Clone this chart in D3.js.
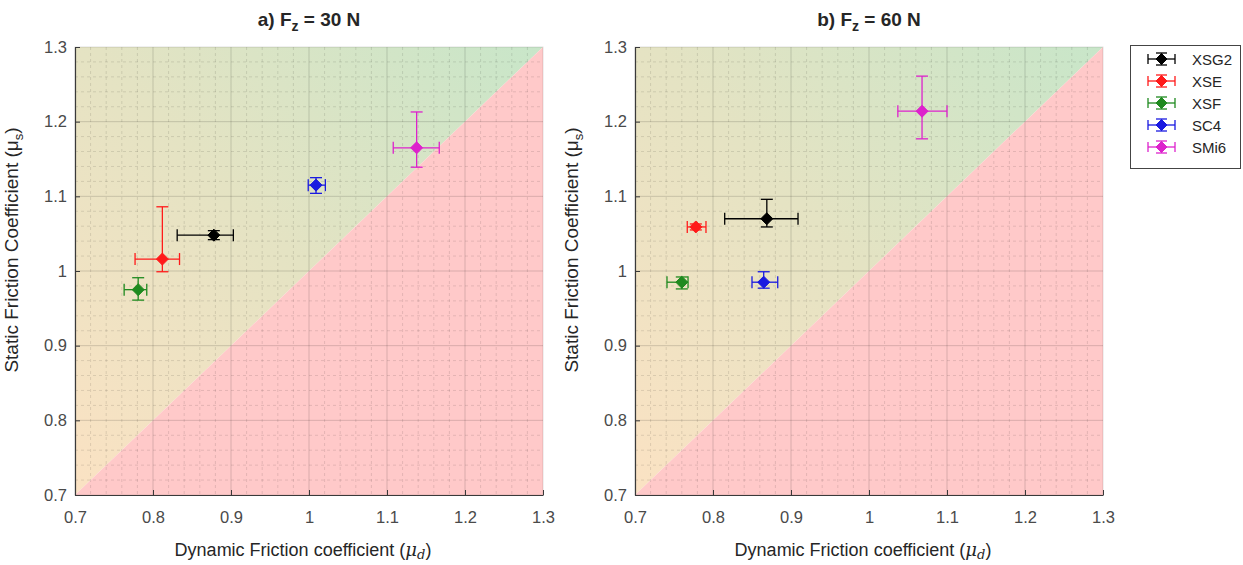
<!DOCTYPE html>
<html>
<head>
<meta charset="utf-8">
<script src="https://cdn.jsdelivr.net/npm/d3@7"></script>
<style>
    body { margin: 0; background: white; }
    svg { display: block; font-family: "Liberation Sans", Arial, sans-serif; }
</style>
</head>
<body>
<svg id="view" width="1243" height="565"></svg>
<script>
// DATA
var SERIES = ["XSG2", "XSE", "XSF", "SC4", "SMi6"];
var COLORS = ["#000000", "#ff1a1a", "#1f8a1f", "#1a1ae0", "#dd22cc"];

var TICKS = [0.7, 0.8, 0.9, 1, 1.1, 1.2, 1.3];

// a) Fz = 30 N
var muD30   = [0.878, 0.812, 0.781, 1.009, 1.138];
var muD30Lo = [0.831, 0.777, 0.763, 0.999, 1.108];
var muD30Hi = [0.903, 0.834, 0.792, 1.021, 1.167];
var muS30   = [1.048, 1.016, 0.975, 1.115, 1.165];
var muS30Lo = [1.042, 0.999, 0.961, 1.104, 1.139];
var muS30Hi = [1.054, 1.086, 0.991, 1.125, 1.213];

// b) Fz = 60 N
var muD60   = [0.869, 0.778, 0.760, 0.865, 1.068];
var muD60Lo = [0.815, 0.767, 0.741, 0.850, 1.037];
var muD60Hi = [0.909, 0.791, 0.768, 0.883, 1.100];
var muS60   = [1.070, 1.059, 0.985, 0.985, 1.214];
var muS60Lo = [1.059, 1.055, 0.976, 0.977, 1.177];
var muS60Hi = [1.096, 1.063, 0.992, 0.999, 1.261];

// CONSTANTS
var TOP = 47;
var BOTTOM = 495;
var CAP = 6;
var DIAMOND = 6;
var TEXT = "#4a4a4a";
var LABEL = "#262626";


function diamond(cx, cy, r) {
    return "M" + cx + "," + (cy - r) +
        "L" + (cx + r) + "," + cy +
        "L" + cx + "," + (cy + r) +
        "L" + (cx - r) + "," + cy + "Z";
}

function drawErrorBar(g, cx, cy, x0, x1, y0, y1, color) {
    var bar = g.append("g")
        .attr("stroke", color)
        .attr("stroke-width", 1.3)
        .attr("fill", "none")
        ;
    bar.append("line").attr("x1", x0).attr("x2", x1).attr("y1", cy).attr("y2", cy);
    bar.append("line").attr("x1", x0).attr("x2", x0).attr("y1", cy - CAP).attr("y2", cy + CAP);
    bar.append("line").attr("x1", x1).attr("x2", x1).attr("y1", cy - CAP).attr("y2", cy + CAP);
    bar.append("line").attr("x1", cx).attr("x2", cx).attr("y1", y0).attr("y2", y1);
    bar.append("line").attr("x1", cx - CAP).attr("x2", cx + CAP).attr("y1", y0).attr("y2", y0);
    bar.append("line").attr("x1", cx - CAP).attr("x2", cx + CAP).attr("y1", y1).attr("y2", y1);
    g.append("path")
        .attr("d", diamond(cx, cy, DIAMOND))
        .attr("fill", color)
        .attr("stroke", color)
        .attr("stroke-width", 1)
        ;
}

function drawPanel(svg, id, left, right, title, d, dLo, dHi, s, sLo, sHi) {
    var x = d3.scaleLinear().domain([0.7, 1.3]).range([left, right]);
    var y = d3.scaleLinear().domain([0.7, 1.3]).range([BOTTOM, TOP]);
    var g = svg.append("g");

    // background
    var grad = svg.append("defs").append("linearGradient")
        .attr("id", id)
        .attr("gradientUnits", "userSpaceOnUse")
        .attr("x1", x(0.7)).attr("y1", y(0.7))
        .attr("x2", x(1.3)).attr("y2", y(1.3))
        ;
    grad.append("stop").attr("offset", 0).attr("stop-color", "#fbe2c3");
    grad.append("stop").attr("offset", 0.5).attr("stop-color", "#e4e3c3");
    grad.append("stop").attr("offset", 1).attr("stop-color", "#c8e6c9");

    var line = d3.line().x(function(p) { return x(p[0]); }).y(function(p) { return y(p[1]); });
    g.append("path")
        .attr("d", line([[0.7, 0.7], [0.7, 1.3], [1.3, 1.3]]) + "Z")
        .attr("fill", "url(#" + id + ")")
        ;
    g.append("path")
        .attr("d", line([[0.7, 0.7], [1.3, 0.7], [1.3, 1.3]]) + "Z")
        .attr("fill", "#ffc9c9")
        ;

    // grid
    var minor = d3.range(36, 65).map(function(v) { return v / 50; })
        .filter(function(v) { return Math.round(v * 50) % 5 !== 0; });
    var grid = g.append("g").attr("fill", "none");
    minor.forEach(function(v) {
        grid.append("line")
            .attr("x1", x(v)).attr("x2", x(v)).attr("y1", TOP).attr("y2", BOTTOM)
            .attr("stroke", "rgba(0,0,0,0.14)").attr("stroke-width", 0.8)
            .attr("stroke-dasharray", "3,3")
            ;
        grid.append("line")
            .attr("x1", left).attr("x2", right).attr("y1", y(v)).attr("y2", y(v))
            .attr("stroke", "rgba(0,0,0,0.14)").attr("stroke-width", 0.8)
            .attr("stroke-dasharray", "3,3")
            ;
    });
    TICKS.slice(1, -1).forEach(function(v) {
        grid.append("line")
            .attr("x1", x(v)).attr("x2", x(v)).attr("y1", TOP).attr("y2", BOTTOM)
            .attr("stroke", "rgba(0,0,0,0.15)").attr("stroke-width", 1)
            ;
        grid.append("line")
            .attr("x1", left).attr("x2", right).attr("y1", y(v)).attr("y2", y(v))
            .attr("stroke", "rgba(0,0,0,0.15)").attr("stroke-width", 1)
            ;
    });
    g.append("rect")
        .attr("x", left).attr("y", TOP)
        .attr("width", right - left).attr("height", BOTTOM - TOP)
        .attr("fill", "none")
        .attr("stroke", "rgba(0,0,0,0.12)")
        ;

    // axes
    var fmt = d3.format("~g");
    var xAxis = g.append("g")
        .attr("transform", "translate(0," + BOTTOM + ")")
        .call(d3.axisBottom(x).tickValues(TICKS).tickFormat(fmt).tickSize(-5).tickPadding(16).tickSizeOuter(0))
        ;
    var yAxis = g.append("g")
        .attr("transform", "translate(" + left + ",0)")
        .call(d3.axisLeft(y).tickValues(TICKS).tickFormat(fmt).tickSize(-5).tickPadding(8).tickSizeOuter(0))
        ;
    [xAxis, yAxis].forEach(function(a) {
        a.select(".domain").attr("stroke", "#3a3a3a").attr("stroke-width", 1.2);
        a.selectAll(".tick line").attr("stroke", "#3a3a3a");
        a.selectAll(".tick text")
            .attr("fill", TEXT)
            .attr("font-size", 16.5)
            .attr("font-family", "Liberation Sans, Arial, sans-serif")
            ;
    });

    // labels
    var t = svg.append("text")
        .attr("x", (left + right) / 2)
        .attr("y", 26)
        .attr("text-anchor", "middle")
        .attr("font-size", 19)
        .attr("font-weight", "bold")
        .attr("fill", LABEL)
        ;
    t.append("tspan").text(title[0]);
    t.append("tspan").attr("font-size", 14).attr("dy", 5).text("z");
    t.append("tspan").attr("dy", -5).text(title[1]);

    var xl = svg.append("text")
        .attr("x", (left + right) / 2 - 6)
        .attr("y", 556)
        .attr("text-anchor", "middle")
        .attr("font-size", 18)
        .attr("fill", LABEL)
        ;
    xl.append("tspan").text("Dynamic Friction coefficient (");
    xl.append("tspan").attr("font-family", "DejaVu Serif, serif").attr("font-style", "italic").text("\u03bc");
    xl.append("tspan").attr("font-family", "DejaVu Serif, serif").attr("font-style", "italic")
        .attr("font-size", 13).attr("dy", 3).text("d");
    xl.append("tspan").attr("dy", -3).text(")");

    var yl = svg.append("text")
        .attr("transform", "translate(" + (left - 57) + "," + 250 + ") rotate(-90)")
        .attr("text-anchor", "middle")
        .attr("font-size", 19)
        .attr("fill", LABEL)
        ;
    yl.append("tspan").text("Static Friction Coefficient (");
    yl.append("tspan").text("\u03bc");
    yl.append("tspan").attr("font-size", 13).attr("dy", 5).text("s");
    yl.append("tspan").attr("dy", -5).text(")");

    // data
    var marks = g.append("g");
    for (var i = 0; i < SERIES.length; i++) {
        drawErrorBar(marks, x(d[i]), y(s[i]), x(dLo[i]), x(dHi[i]), y(sHi[i]), y(sLo[i]), COLORS[i]);
    }
}

function drawLegend(svg) {
    var g = svg.append("g");
    var rowH = 22;
    g.append("rect")
        .attr("x", 1130.5).attr("y", 45.5)
        .attr("width", 110).attr("height", 13 + rowH * SERIES.length)
        .attr("fill", "white")
        .attr("stroke", "#444")
        .attr("stroke-width", 1)
        ;
    for (var i = 0; i < SERIES.length; i++) {
        var cy = 59 + i * rowH;
        var c = COLORS[i];
        var row = g.append("g").attr("stroke", c).attr("stroke-width", 1.3);
        row.append("line").attr("x1", 1148).attr("x2", 1175).attr("y1", cy).attr("y2", cy);
        row.append("line").attr("x1", 1148).attr("x2", 1148).attr("y1", cy - 5).attr("y2", cy + 5);
        row.append("line").attr("x1", 1175).attr("x2", 1175).attr("y1", cy - 5).attr("y2", cy + 5);
        row.append("line").attr("x1", 1161.5).attr("x2", 1161.5).attr("y1", cy - 6).attr("y2", cy + 6);
        row.append("line").attr("x1", 1156).attr("x2", 1167).attr("y1", cy - 6).attr("y2", cy - 6);
        row.append("line").attr("x1", 1156).attr("x2", 1167).attr("y1", cy + 6).attr("y2", cy + 6);
        g.append("path").attr("d", diamond(1161.5, cy, 5.5)).attr("fill", c).attr("stroke", c);
        g.append("text")
            .attr("x", 1192).attr("y", cy + 5.5)
            .attr("font-size", 15)
            .attr("fill", LABEL)
            .text(SERIES[i])
            ;
    }
}

function main() {
    var svg = d3.select("#view");
    drawPanel(svg, "gradA", 75, 543, ["a) F", " = 30 N"], muD30, muD30Lo, muD30Hi, muS30, muS30Lo, muS30Hi);
    drawPanel(svg, "gradB", 635, 1103, ["b) F", " = 60 N"], muD60, muD60Lo, muD60Hi, muS60, muS60Lo, muS60Hi);
    drawLegend(svg);
}

main();
</script>
</body>
</html>
